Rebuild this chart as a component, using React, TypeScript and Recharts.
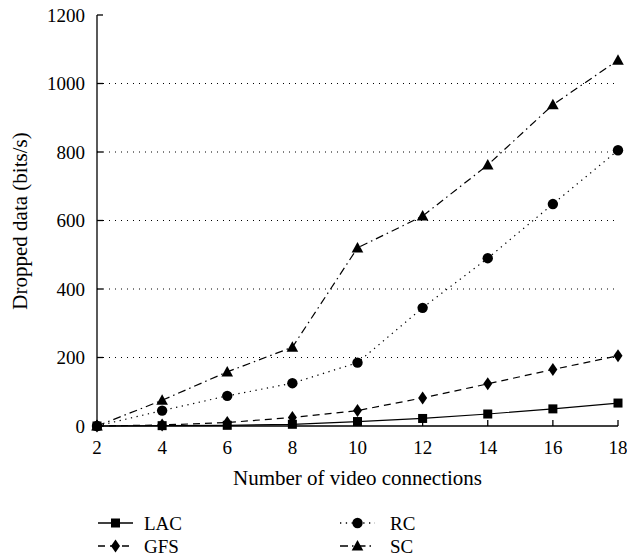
import React from "react";
import { LineChart, Line, XAxis, YAxis, CartesianGrid, Legend } from "recharts";

const connections = [2, 4, 6, 8, 10, 12, 14, 16, 18];
const lacValues = [0, 1, 2, 5, 13, 22, 35, 50, 67];
const gfsValues = [0, 3, 10, 25, 45, 82, 123, 165, 205];
const rcValues = [0, 45, 88, 125, 185, 345, 490, 648, 805];
const scValues = [0, 75, 158, 230, 520, 613, 762, 938, 1068];
const xTicks = [2, 4, 6, 8, 10, 12, 14, 16, 18];
const yTicks = [0, 200, 400, 600, 800, 1000, 1200];
const gridTicks = [200, 400, 600, 800, 1000];

const data = connections.map((c, i) => ({
  x: c,
  LAC: lacValues[i],
  GFS: gfsValues[i],
  RC: rcValues[i],
  SC: scValues[i],
}));

const FONT = "Liberation Serif";
const labelStyle = { fontFamily: FONT, fontSize: 21, fill: "#000" };
const legendStyle = { fontFamily: FONT, fontSize: 19, fill: "#000" };

type Shape = "square" | "diamond" | "circle" | "triangle";

const drawMarker = (shape: Shape, cx: number, cy: number, key?: string | number) => {
  switch (shape) {
    case "square":
      return <rect key={key} x={cx - 4.5} y={cy - 4.5} width={9} height={9} fill="#000" />;
    case "diamond":
      return (
        <path key={key} d={`M${cx},${cy - 6.5} L${cx + 4.5},${cy} L${cx},${cy + 6.5} L${cx - 4.5},${cy} Z`} fill="#000" />
      );
    case "circle":
      return <circle key={key} cx={cx} cy={cy} r={5.2} fill="#000" />;
    case "triangle":
      return (
        <path key={key} d={`M${cx},${cy - 6} L${cx + 5.8},${cy + 4.5} L${cx - 5.8},${cy + 4.5} Z`} fill="#000" />
      );
  }
};

const series: { key: string; dash: string; shape: Shape }[] = [
  { key: "LAC", dash: "", shape: "square" },
  { key: "GFS", dash: "7 5", shape: "diamond" },
  { key: "RC", dash: "1.3 4.5", shape: "circle" },
  { key: "SC", dash: "8 4 1.5 4", shape: "triangle" },
];

const makeDot = (shape: Shape) => (props: any) => {
  const { cx, cy, index } = props;
  if (cx == null || cy == null) return <g key={index} />;
  return drawMarker(shape, cx, cy, index);
};

const legendLayout: Record<string, { x: number; y: number; tx: number }> = {
  LAC: { x: 98, y: 523, tx: 144 },
  GFS: { x: 98, y: 546, tx: 144 },
  RC: { x: 340, y: 523, tx: 390 },
  SC: { x: 340, y: 546, tx: 390 },
};

const LegendContent = () => (
  <svg width={627} height={560} style={{ position: "absolute", left: 0, top: 0 }}>
    {series.map((s) => {
      const p = legendLayout[s.key];
      return (
        <g key={s.key}>
          <line x1={p.x} y1={p.y} x2={p.x + 35} y2={p.y} stroke="#000" strokeWidth={1.3} strokeDasharray={s.dash || undefined} />
          {drawMarker(s.shape, p.x + 17.5, p.y)}
          <text x={p.tx} y={p.y} dy="0.35em" style={legendStyle}>
            {s.key}
          </text>
        </g>
      );
    })}
  </svg>
);

export default function App() {
  return (
    <div style={{ position: "absolute", left: 0, top: 0, width: 627, height: 560, background: "#fff", fontFamily: FONT }}>
      <LineChart
        width={627}
        height={560}
        data={data}
        margin={{ top: 15, right: 9, bottom: 104, left: 0 }}
      >
        <CartesianGrid
          vertical={false}
          horizontalValues={gridTicks}
          stroke="#000"
          strokeWidth={1}
          strokeDasharray="1 5"
        />
        <XAxis
          dataKey="x"
          type="number"
          domain={[2, 18]}
          ticks={xTicks}
          interval={0}
          height={30}
          axisLine={{ stroke: "#000", strokeWidth: 1.3 }}
          tickLine={{ stroke: "#000", strokeWidth: 1.3 }}
          tickSize={-6}
          tickMargin={21}
          tick={{ fill: "#000", fontSize: 19, fontFamily: FONT, style: { fontFamily: FONT } }}
          label={{
            content: (props: any) => {
              const vb = props.viewBox;
              return (
                <text x={vb.x + vb.width / 2} y={478} textAnchor="middle" dy="0.35em" style={labelStyle}>
                  Number of video connections
                </text>
              );
            },
          }}
        />
        <XAxis
          xAxisId="top"
          dataKey="x"
          type="number"
          orientation="top"
          domain={[2, 18]}
          ticks={xTicks}
          mirror
          height={0}
          axisLine={{ stroke: "#000", strokeWidth: 1.3 }}
          tickLine={{ stroke: "#000", strokeWidth: 1.3 }}
          tickSize={6}
          tickFormatter={() => ""}
        />
        <YAxis
          type="number"
          domain={[0, 1200]}
          ticks={yTicks}
          interval={0}
          width={97}
          axisLine={{ stroke: "#000", strokeWidth: 1.3 }}
          tickLine={{ stroke: "#000", strokeWidth: 1.3 }}
          tickSize={-6}
          tickMargin={18}
          tick={{ fill: "#000", fontSize: 19, fontFamily: FONT, style: { fontFamily: FONT } }}
          label={{
            content: () => (
              <text
                x={20}
                y={221}
                textAnchor="middle"
                dy="0.35em"
                transform="rotate(-90 20 221)"
                style={labelStyle}
              >
                Dropped data (bits/s)
              </text>
            ),
          }}
        />
        <YAxis
          yAxisId="right"
          orientation="right"
          type="number"
          domain={[0, 1200]}
          ticks={yTicks}
          mirror
          width={0}
          axisLine={{ stroke: "#000", strokeWidth: 1.3 }}
          tickLine={{ stroke: "#000", strokeWidth: 1.3 }}
          tickSize={6}
          tickFormatter={() => ""}
        />
        {series.map((s) => (
          <Line
            key={s.key}
            dataKey={s.key}
            type="linear"
            stroke="#000"
            strokeWidth={1.2}
            strokeDasharray={s.dash || undefined}
            dot={makeDot(s.shape)}
            activeDot={false}
            isAnimationActive={false}
          />
        ))}
        <Legend content={() => <LegendContent />} wrapperStyle={{ position: "absolute", left: 0, top: 0, width: 0, height: 0 }} />
      </LineChart>
    </div>
  );
}
